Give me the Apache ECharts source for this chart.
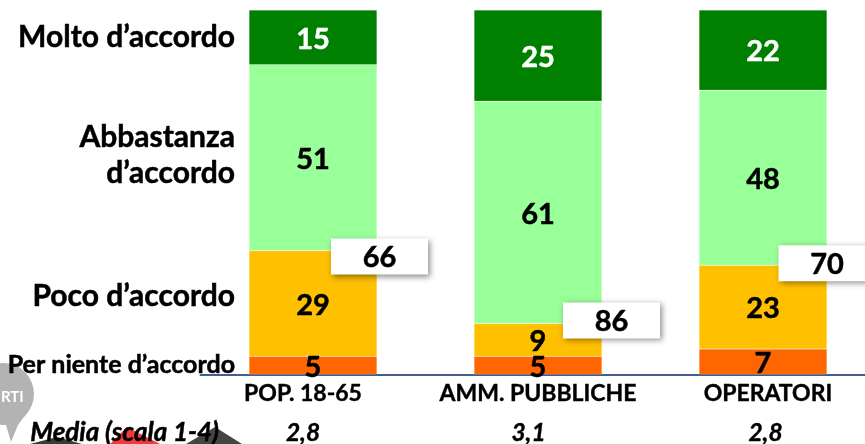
<!DOCTYPE html>
<html><head><meta charset="utf-8">
<style>html,body{margin:0;padding:0;background:#fff}#c{width:865px;height:444px}</style>
<script src="https://cdn.jsdelivr.net/npm/echarts@6/dist/echarts.min.js"></script>
</head><body><div id="c"></div>
<script>
const categories = ['POP. 18-65', 'AMM. PUBBLICHE', 'OPERATORI'];
const media = ['2,8', '3,1', '2,8'];
const perNiente = [5, 5, 7];
const poco = [29, 9, 23];
const abbastanza = [51, 61, 48];
const molto = [15, 25, 22];
const totals = [66, 86, 70];
const rowLabels = ['Molto d’accordo', 'Abbastanza\nd’accordo', 'Poco d’accordo', 'Per niente d’accordo'];
const mediaTitle = 'Media (scala 1-4)';
const FONT = 'Lato, Carlito, sans-serif';

// pixel nudges of the labels and of the white total boxes
const boxDx = [66.5, 73.5, 64];
const boxDy = [6, -3, -2];
const catDx = [-10, 0, 5];
const mediaDx = [-10, -9.5, 2.5];

function seg(name, data, color, textColor) {
  return {
    name, type: 'bar', stack: 'a', data, barWidth: 128, z: 2,
    itemStyle: { color, borderColor: 'rgba(255,255,255,0.35)', borderWidth: 0.5 },
    label: { show: true, position: 'inside', offset: [0, 2], color: textColor, fontFamily: FONT, fontWeight: 'bold', fontSize: 29,
      textBorderColor: textColor, textBorderWidth: 0.5 }
  };
}
function nudgedLabels(dx, base) {
  const rich = {};
  dx.forEach((d, i) => {
    rich['n' + i] = Object.assign({}, base, { padding: d < 0 ? [0, -2 * d, 0, 0] : [0, 0, 0, 2 * d] });
  });
  return Object.assign({}, base, {
    interval: 0,
    formatter: (v, i) => '{n' + i + '|' + v + '}',
    rich
  });
}
const chart = echarts.init(document.getElementById('c'), null, { renderer: 'canvas' });
chart.setOption({
  animation: false,
  backgroundColor: '#fff',
  grid: { left: 200.5, width: 675, top: 10, height: 364.5, containLabel: false, outerBoundsMode: 'none' },
  xAxis: [{
    type: 'category', data: categories, position: 'bottom',
    axisLine: { lineStyle: { color: '#3f5f91', width: 2 } }, axisTick: { show: false },
    axisLabel: Object.assign(nudgedLabels(catDx, { color: '#000', fontFamily: FONT, fontWeight: 'bold', fontSize: 23,
      textBorderColor: '#000', textBorderWidth: 0.4 }), { margin: 8 })
  }, {
    type: 'category', data: media, position: 'bottom', offset: 46,
    axisLine: { show: false }, axisTick: { show: false },
    axisLabel: Object.assign(nudgedLabels(mediaDx, { color: '#000', fontFamily: FONT, fontWeight: 'bold', fontStyle: 'italic', fontSize: 24.5,
      textBorderColor: '#000', textBorderWidth: 0.4 }), { margin: 0, verticalAlign: 'top' })
  }],
  yAxis: { type: 'value', min: 0, max: 100, show: false },
  series: [
    seg('Per niente d’accordo', perNiente, '#ff6600', '#000'),
    seg('Poco d’accordo', poco, '#ffc000', '#000'),
    seg('Abbastanza d’accordo', abbastanza, '#99ff99', '#000'),
    seg('Molto d’accordo', molto, '#008000', '#fff'),
    {
      type: 'custom', z: 5, silent: true,
      data: totals.map((t, i) => [i, perNiente[i] + poco[i], t]),
      encode: { x: 0, y: 1 },
      clip: false,
      renderItem(params, api) {
        const i = api.value(0);
        const p = api.coord([i, api.value(1)]);
        const cx = p[0] + boxDx[i], cy = p[1] + boxDy[i];
        return {
          type: 'group',
          children: [{
            type: 'rect',
            shape: { x: cx - 48.5, y: cy - 18, width: 97, height: 36 },
            style: { fill: '#fff', shadowBlur: 6, shadowColor: 'rgba(0,0,0,0.45)', shadowOffsetX: 2, shadowOffsetY: 2 }
          }, {
            type: 'text',
            style: { x: cx, y: cy + 1, text: String(api.value(2)), align: 'center', verticalAlign: 'middle',
              fill: '#000', stroke: '#000', lineWidth: 0.5, font: 'bold 29px ' + FONT }
          }]
        };
      }
    }
  ],
  graphic: [
    // faint watermark fragments behind the text at the bottom-left
    { type: 'circle', z: -1, silent: true, shape: { cx: 3, cy: 394, r: 31 }, style: { fill: '#b3b3b3' } },
    { type: 'polygon', z: -1, silent: true, shape: { points: [[-18,416],[29,410],[18,425],[11,442],[6,425]] }, style: { fill: '#b3b3b3' } },
    { type: 'text', z: -1, silent: true, style: { x: 1, y: 397, text: 'RTI', fill: '#fff', font: 'bold 15px ' + FONT, verticalAlign: 'middle' } },
    { type: 'polygon', z: -1, silent: true, shape: { points: [[30,444],[57,437],[82,444]] }, style: { fill: '#3a3a3a' } },
    { type: 'polygon', z: -1, silent: true, shape: { points: [[110,444],[127,427],[160,444]] }, style: { fill: '#ee3b3b' } },
    { type: 'polygon', z: -1, silent: true, shape: { points: [[186,444],[215,427],[242,444]] }, style: { fill: '#454545' } },
    { type: 'text', z: 10, silent: true, style: { x: 235, y: 37, text: rowLabels[0], align: 'right', verticalAlign: 'middle', font: 'bold 30px ' + FONT, fill: '#000', stroke: '#000', lineWidth: 0.5 } },
    { type: 'text', z: 10, silent: true, style: { x: 235, y: 155, text: rowLabels[1], align: 'right', verticalAlign: 'middle', lineHeight: 36, font: 'bold 30px ' + FONT, fill: '#000', stroke: '#000', lineWidth: 0.5 } },
    { type: 'text', z: 10, silent: true, style: { x: 235, y: 296, text: rowLabels[2], align: 'right', verticalAlign: 'middle', font: 'bold 30px ' + FONT, fill: '#000', stroke: '#000', lineWidth: 0.5 } },
    { type: 'text', z: 10, silent: true, style: { x: 235, y: 365, text: rowLabels[3], align: 'right', verticalAlign: 'middle', font: 'bold 25px ' + FONT, fill: '#000', stroke: '#000', lineWidth: 0.5 } },
    { type: 'text', z: 10, silent: true, style: { x: 219, y: 433, text: mediaTitle, align: 'right', verticalAlign: 'middle', font: 'italic bold 26px ' + FONT, fill: '#000', stroke: '#000', lineWidth: 0.5 } }
  ]
});
</script></body></html>
